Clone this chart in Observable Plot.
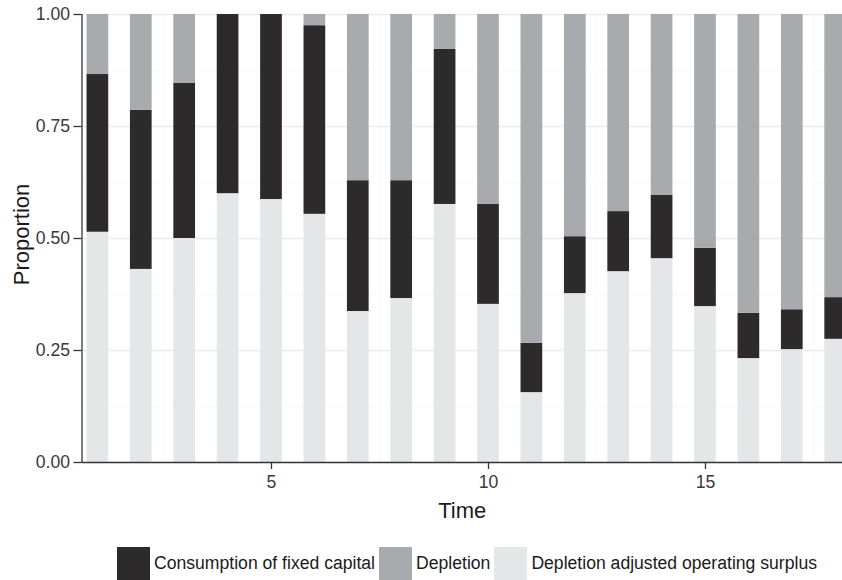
<!DOCTYPE html>
<html>
<head>
<meta charset="utf-8">
<script src="https://cdn.jsdelivr.net/npm/d3@7"></script>
<script src="https://cdn.jsdelivr.net/npm/@observablehq/plot@0.6"></script>
<style>
  html, body { margin: 0; padding: 0; background: #fff; }
  body { width: 842px; height: 580px; overflow: hidden; font-family: "Liberation Sans", Arial, sans-serif; }
  #legend { display: flex; align-items: center; margin-left: 117px; margin-top: 12px; font-size: 17.6px; color: #1a1a1a; }
  #legend .sw { width: 33px; height: 33px; flex: none; }
  #legend .lab { margin: 0 4px 0 4px; white-space: nowrap; }
</style>
</head>
<body>
<div id="chart"></div>
<div id="legend"></div>
<script>
// ---- data ----
const times = [1, 2, 3, 4, 5, 6, 7, 8, 9, 10, 11, 12, 13, 14, 15, 16, 17, 18];
const surplus   = [0.514, 0.431, 0.500, 0.600, 0.587, 0.554, 0.337, 0.366, 0.576, 0.353, 0.156, 0.377, 0.426, 0.455, 0.348, 0.232, 0.252, 0.275];
const fixedCap  = [0.352, 0.355, 0.346, 0.400, 0.413, 0.421, 0.292, 0.263, 0.346, 0.223, 0.110, 0.127, 0.134, 0.141, 0.130, 0.101, 0.089, 0.093];
const depletion = [0.134, 0.214, 0.154, 0.000, 0.000, 0.025, 0.371, 0.371, 0.078, 0.424, 0.734, 0.496, 0.440, 0.404, 0.522, 0.667, 0.659, 0.632];
const seriesNames = ["Consumption of fixed capital", "Depletion", "Depletion adjusted operating surplus"];
const seriesColors = ["#2c2a2b", "#a9aaad", "#e5e6e8"];
const yTicks = [0, 0.25, 0.5, 0.75, 1];
const xTicks = [5, 10, 15];

// stacking order bottom -> top
const stackOrder = [
  {name: seriesNames[2], values: surplus},
  {name: seriesNames[0], values: fixedCap},
  {name: seriesNames[1], values: depletion}
];
const rects = [];
times.forEach((t, i) => {
  let base = 0;
  for (const s of stackOrder) {
    const v = s.values[i];
    rects.push({t, series: s.name, y1: base, y2: base + v});
    base += v;
  }
});

const x0 = 0.634, x1 = 18.157;
const grid = "#ebebeb", minor = "#f6f6f6";

const chart = Plot.plot({
  width: 842,
  height: 535,
  marginLeft: 81.5,
  marginRight: 0,
  marginTop: 14,
  marginBottom: 73,
  style: {fontFamily: "'Liberation Sans', Arial, sans-serif", background: "#fff"},
  x: {domain: [x0, x1]},
  y: {domain: [0, 1]},
  color: {domain: seriesNames, range: seriesColors},
  marks: [
    // minor grid
    Plot.ruleY([0.125, 0.375, 0.625, 0.875], {stroke: minor, strokeWidth: 0.8}),
    Plot.ruleX([2.5, 7.5, 12.5, 17.5], {stroke: minor, strokeWidth: 0.8}),
    // major grid
    Plot.ruleY([0.25, 0.5, 0.75, 1], {stroke: grid, strokeWidth: 1.5}),
    Plot.ruleX(xTicks, {stroke: grid, strokeWidth: 1.5}),
    // bars
    Plot.rect(rects, {x1: d => d.t - 0.25, x2: d => d.t + 0.25, y1: "y1", y2: "y2", fill: "series", clip: true}),
    // axes
    Plot.axisY(yTicks, {tickFormat: d3.format(".2f"), tickSize: 8, tickPadding: 4, fontSize: 17.6, color: "#3a3a3a", stroke: "#333", strokeWidth: 1.3, label: null}),
    Plot.axisX(xTicks, {tickSize: 7, tickPadding: 6, fontSize: 17.6, color: "#3a3a3a", stroke: "#333", strokeWidth: 1.3, label: null}),
    Plot.ruleX([x0], {stroke: "#333", strokeWidth: 1.3}),
    Plot.ruleY([0], {stroke: "#333", strokeWidth: 1.3}),
    // axis titles
    Plot.text(["Time"], {frameAnchor: "bottom", lineAnchor: "middle", textAnchor: "middle", dy: 48, fontSize: 22, fill: "#1a1a1a"}),
    Plot.text(["Proportion"], {frameAnchor: "left", lineAnchor: "middle", textAnchor: "middle", dx: -60, dy: -4, rotate: -90, fontSize: 22, fill: "#1a1a1a"})
  ]
});
document.getElementById("chart").appendChild(chart);

// legend
const legend = document.getElementById("legend");
seriesNames.forEach((n, i) => {
  const sw = document.createElement("span");
  sw.className = "sw";
  sw.style.background = seriesColors[i];
  const lab = document.createElement("span");
  lab.className = "lab";
  lab.textContent = n;
  legend.appendChild(sw);
  legend.appendChild(lab);
});
</script>
</body>
</html>
